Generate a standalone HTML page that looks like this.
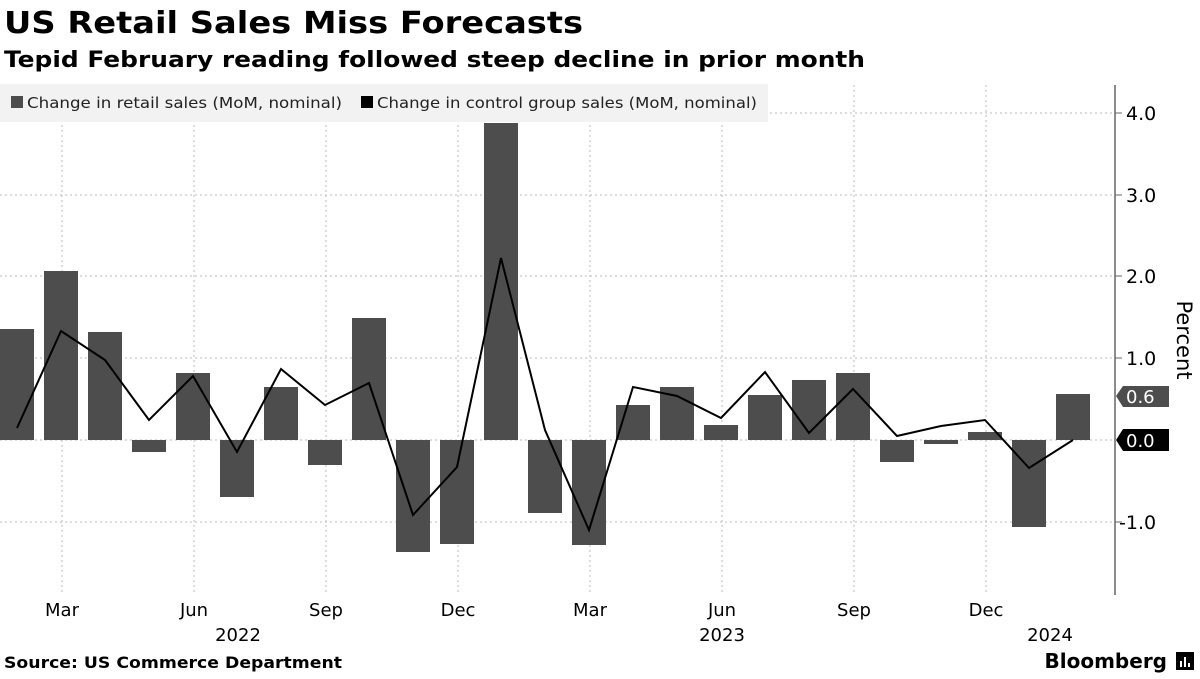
<!DOCTYPE html>
<html><head><meta charset="utf-8"><style>
body{margin:0;background:#fff;width:1200px;height:675px;overflow:hidden;font-family:"DejaVu Sans","Liberation Sans",sans-serif}
</style></head><body>
<svg width="1200" height="675" xmlns="http://www.w3.org/2000/svg" font-family="DejaVu Sans, Liberation Sans, sans-serif">
<text x="4" y="33" font-size="30" font-weight="bold" fill="#000" textLength="579" lengthAdjust="spacingAndGlyphs">US Retail Sales Miss Forecasts</text>
<text x="4" y="67" font-size="22" font-weight="bold" fill="#000" textLength="861" lengthAdjust="spacingAndGlyphs">Tepid February reading followed steep decline in prior month</text>
<g stroke="#bbb" stroke-dasharray="2,3" stroke-width="1">
<line x1="0" x2="1115" y1="113" y2="113"/><line x1="0" x2="1115" y1="195" y2="195"/><line x1="0" x2="1115" y1="276" y2="276"/><line x1="0" x2="1115" y1="358" y2="358"/><line x1="0" x2="1115" y1="440" y2="440"/><line x1="0" x2="1115" y1="522" y2="522"/>
<line x1="62" x2="62" y1="85" y2="595"/><line x1="194" x2="194" y1="85" y2="595"/><line x1="326" x2="326" y1="85" y2="595"/><line x1="458" x2="458" y1="85" y2="595"/><line x1="590" x2="590" y1="85" y2="595"/><line x1="722" x2="722" y1="85" y2="595"/><line x1="854" x2="854" y1="85" y2="595"/><line x1="986" x2="986" y1="85" y2="595"/>
</g>
<rect x="0" y="84" width="768" height="38" fill="#f2f2f2"/>
<rect x="11" y="96" width="12" height="12" fill="#4d4d4d"/>
<text x="27" y="108" font-size="15" fill="#222" textLength="315" lengthAdjust="spacingAndGlyphs">Change in retail sales (MoM, nominal)</text>
<rect x="361" y="96" width="12" height="12" fill="#000"/>
<text x="377" y="108" font-size="15" fill="#222" textLength="380" lengthAdjust="spacingAndGlyphs">Change in control group sales (MoM, nominal)</text>
<g fill="#4d4d4d">
<rect x="0" y="329" width="34" height="111"/>
<rect x="44" y="271" width="34" height="169"/>
<rect x="88" y="332" width="34" height="108"/>
<rect x="132" y="440" width="34" height="12"/>
<rect x="176" y="373" width="34" height="67"/>
<rect x="220" y="440" width="34" height="57"/>
<rect x="264" y="387" width="34" height="53"/>
<rect x="308" y="440" width="34" height="25"/>
<rect x="352" y="318" width="34" height="122"/>
<rect x="396" y="440" width="34" height="112"/>
<rect x="440" y="440" width="34" height="104"/>
<rect x="484" y="123" width="34" height="317"/>
<rect x="528" y="440" width="34" height="73"/>
<rect x="572" y="440" width="34" height="105"/>
<rect x="616" y="405" width="34" height="35"/>
<rect x="660" y="387" width="34" height="53"/>
<rect x="704" y="425" width="34" height="15"/>
<rect x="748" y="395" width="34" height="45"/>
<rect x="792" y="380" width="34" height="60"/>
<rect x="836" y="373" width="34" height="67"/>
<rect x="880" y="440" width="34" height="22"/>
<rect x="924" y="440" width="34" height="4"/>
<rect x="968" y="432" width="34" height="8"/>
<rect x="1012" y="440" width="34" height="87"/>
<rect x="1056" y="394" width="34" height="46"/>
</g>
<polyline fill="none" stroke="#000" stroke-width="2" points="17,428 61,331 105,360 149,420 193,376 237,452 281,369 325,405 369,383 413,515 457,467 501,258 545,430 589,530 633,387 677,396 721,418 765,372 809,433 853,389 897,436 941,426 985,420 1029,468 1073,440"/>
<line x1="1115" x2="1115" y1="85" y2="595" stroke="#666" stroke-width="1.5"/>
<g stroke="#666"><line x1="1115" x2="1122" y1="113" y2="113"/><line x1="1115" x2="1122" y1="195" y2="195"/><line x1="1115" x2="1122" y1="276" y2="276"/><line x1="1115" x2="1122" y1="358" y2="358"/><line x1="1115" x2="1122" y1="522" y2="522"/></g>
<g font-size="19" fill="#000">
<text x="1126" y="120">4.0</text><text x="1126" y="202">3.0</text><text x="1126" y="283">2.0</text><text x="1126" y="365">1.0</text><text x="1119" y="529">-1.0</text>
</g>
<polygon points="1116,396 1123,386 1169,386 1169,407 1123,407" fill="#4d4d4d"/>
<text x="1126" y="403" font-size="18" fill="#fff">0.6</text>
<polygon points="1116,440 1123,429 1169,429 1169,451 1123,451" fill="#000"/>
<text x="1126" y="447" font-size="18" fill="#fff">0.0</text>
<text transform="translate(1177,340) rotate(90)" font-size="21" fill="#000" text-anchor="middle">Percent</text>
<g font-size="18" fill="#000" text-anchor="middle">
<text x="62" y="616">Mar</text><text x="194" y="616">Jun</text><text x="326" y="616">Sep</text><text x="458" y="616">Dec</text><text x="590" y="616">Mar</text><text x="722" y="616">Jun</text><text x="854" y="616">Sep</text><text x="986" y="616">Dec</text>
<text x="238" y="641">2022</text><text x="722" y="641">2023</text><text x="1050" y="641">2024</text>
</g>
<text x="4" y="668" font-size="16" font-weight="bold" fill="#000" textLength="338" lengthAdjust="spacingAndGlyphs">Source: US Commerce Department</text>
<text x="1167" y="668" font-size="20" font-weight="bold" fill="#000" text-anchor="end">Bloomberg</text>
<rect x="1176" y="652" width="18" height="18" fill="#000"/>
<g stroke="#fff" stroke-width="2"><line x1="1181" y1="667" x2="1181" y2="661"/><line x1="1185" y1="667" x2="1185" y2="657"/><line x1="1189" y1="667" x2="1189" y2="663"/></g>
</svg>
</body></html>
